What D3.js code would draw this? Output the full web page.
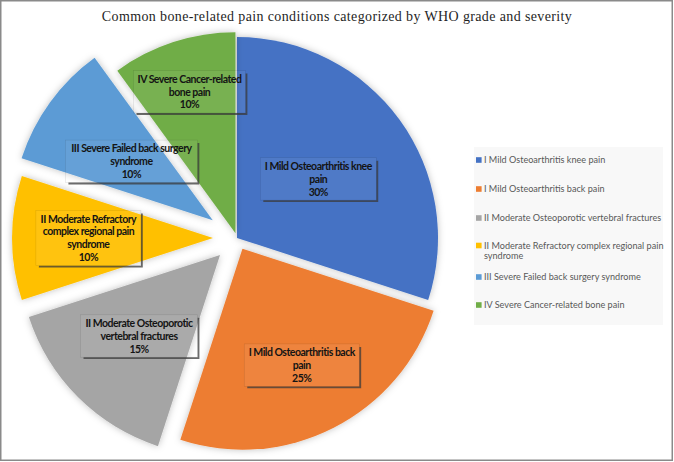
<!DOCTYPE html>
<html>
<head>
<meta charset="utf-8">
<script src="https://cdn.jsdelivr.net/npm/d3@7/dist/d3.min.js"></script>
<style>
  html, body { margin: 0; padding: 0; background: #fff; }
  svg { display: block; }
</style>
</head>
<body>
<svg id="chart" width="674" height="462"></svg>
<script>
// ---- data ----
const title = "Common bone-related pain conditions categorized by WHO grade and severity";
const categories = [
  "I Mild Osteoarthritis knee pain",
  "I Mild Osteoarthritis back pain",
  "II Moderate Osteoporotic vertebral fractures",
  "II Moderate Refractory complex regional pain syndrome",
  "III Severe Failed back surgery syndrome",
  "IV Severe Cancer-related bone pain"
];
const values = [30, 25, 15, 10, 10, 10];
const percentLabels = ["30%", "25%", "15%", "10%", "10%", "10%"];
const colors = ["#4472C4", "#ED7D31", "#A5A5A5", "#FFC000", "#5B9BD5", "#70AD47"];

// ---- layout (not data) ----
const W = 674, H = 462;
const cx = 237, cy = 238, R = 201;
const explode = [0, 12, 24, 24, 30, 5];
const labelFactor = [0.5, 0.65, 0.57, 0.62, 0.5, 0.74];
const labelBox = [116, 115, 117, 105, 132, 112];

const svg = d3.select("#chart");
const defs = svg.append("defs");
const sh = defs.append("filter").attr("id", "sliceShadow")
  .attr("x", "-20%").attr("y", "-20%").attr("width", "140%").attr("height", "140%");
sh.append("feDropShadow").attr("dx", 0).attr("dy", 0).attr("stdDeviation", 3.5)
  .attr("flood-color", "#000").attr("flood-opacity", 0.25);
const lb = defs.append("filter").attr("id", "lblShadow")
  .attr("x", "-20%").attr("y", "-50%").attr("width", "140%").attr("height", "200%");
lb.append("feGaussianBlur").attr("stdDeviation", 0.7);

// frame
svg.append("rect").attr("x", 0.75).attr("y", 0.75).attr("width", W - 2.5).attr("height", H - 2.5)
  .attr("fill", "#fff").attr("stroke", "#8a8a8a").attr("stroke-width", 1.5);

// title
svg.append("text").attr("x", 337).attr("y", 21).attr("text-anchor", "middle")
  .attr("font-family", "'Liberation Serif', 'Times New Roman', serif")
  .attr("font-size", 14).attr("letter-spacing", 0.37).attr("fill", "#1f1f1f").text(title);

// pie
const pie = d3.pie().sort(null).value(d => d).startAngle(0).endAngle(2 * Math.PI);
const arcs = pie(values);
const arc = d3.arc().innerRadius(0).outerRadius(R);

const g = svg.append("g").attr("transform", `translate(${cx},${cy})`);
arcs.forEach((a, i) => {
  const mid = (a.startAngle + a.endAngle) / 2;
  a.dx = Math.sin(mid) * explode[i];
  a.dy = -Math.cos(mid) * explode[i];
  a.mid = mid;
});

g.selectAll("path.slice").data(arcs).enter().append("path")
  .attr("class", "slice")
  .attr("transform", d => `translate(${d.dx},${d.dy})`)
  .attr("d", arc)
  .attr("fill", (d, i) => colors[i])
  .attr("filter", "url(#sliceShadow)");

// labels
const fontLbl = "Lato, 'Open Sans', 'DejaVu Sans', sans-serif";
const lblSize = 10.5, lblSpacing = -0.5;
const measure = svg.append("text").attr("font-family", fontLbl).attr("font-size", lblSize)
  .attr("letter-spacing", lblSpacing).attr("font-weight", "bold").attr("visibility", "hidden");
function textWidth(s) { measure.text(s); return measure.node().getComputedTextLength(); }
function wrap(s, w) {
  const words = s.split(" "); const lines = []; let cur = "";
  words.forEach(wd => {
    const t = cur ? cur + " " + wd : wd;
    if (textWidth(t) > w && cur) { lines.push(cur); cur = wd; } else cur = t;
  });
  if (cur) lines.push(cur);
  return lines;
}

arcs.forEach((a, i) => {
  const lr = R * labelFactor[i];
  const lx = a.dx + Math.sin(a.mid) * lr;
  const ly = a.dy - Math.cos(a.mid) * lr;
  const lines = wrap(categories[i], labelBox[i] + 5).concat([percentLabels[i]]);
  const lh = 12.8;
  const bw = labelBox[i], bh = lines.length * lh + 4;
  const bx = lx - bw / 2, by = ly - bh / 2;
  const lg = g.append("g");
  lg.append("path")
    .attr("d", `M${bx + 3},${by + bh + 1} L${bx + bw + 1},${by + bh + 1} L${bx + bw + 1},${by + 3}`)
    .attr("fill", "none").attr("stroke", "#3a3a3a").attr("stroke-opacity", 0.75)
    .attr("stroke-width", 1.8).attr("filter", "url(#lblShadow)");
  lg.append("rect").attr("x", bx).attr("y", by).attr("width", bw).attr("height", bh)
    .attr("fill", "rgba(255,255,255,0.06)").attr("stroke", "rgba(0,0,0,0.12)").attr("stroke-width", 0.6);
  const t = lg.append("text").attr("text-anchor", "middle")
    .attr("font-family", fontLbl).attr("font-size", lblSize).attr("letter-spacing", lblSpacing)
    .attr("font-weight", "bold").attr("fill", "#141414");
  lines.forEach((ln, k) => {
    t.append("tspan").attr("x", lx).attr("y", by + 2 + lh * (k + 0.5) + 3.8).text(ln);
  });
});

// legend
svg.append("rect").attr("x", 474).attr("y", 147).attr("width", 189).attr("height", 178)
  .attr("fill", "#f8f8f8");
const legendY = d3.scalePoint().domain(d3.range(categories.length)).range([160, 305]);
const legFont = "Lato, 'Open Sans', sans-serif";
const leg = svg.append("g");
categories.forEach((c, i) => {
  const y = legendY(i) + (i === 4 ? 1 : 0) + (i === 3 ? -1.5 : 0);
  const lines = i === 3 ? ["II Moderate Refractory complex regional pain", "syndrome"] : [c];
  leg.append("rect").attr("x", 476).attr("y", y - 2.8).attr("width", 5.6).attr("height", 5.6).attr("fill", colors[i]);
  lines.forEach((ln, k) => leg.append("text").attr("font-family", legFont).attr("font-size", 9.1)
    .attr("fill", "#595959").attr("x", 484).attr("y", y + 3.2 + k * 10.5).text(ln));
});
</script>
</body>
</html>
